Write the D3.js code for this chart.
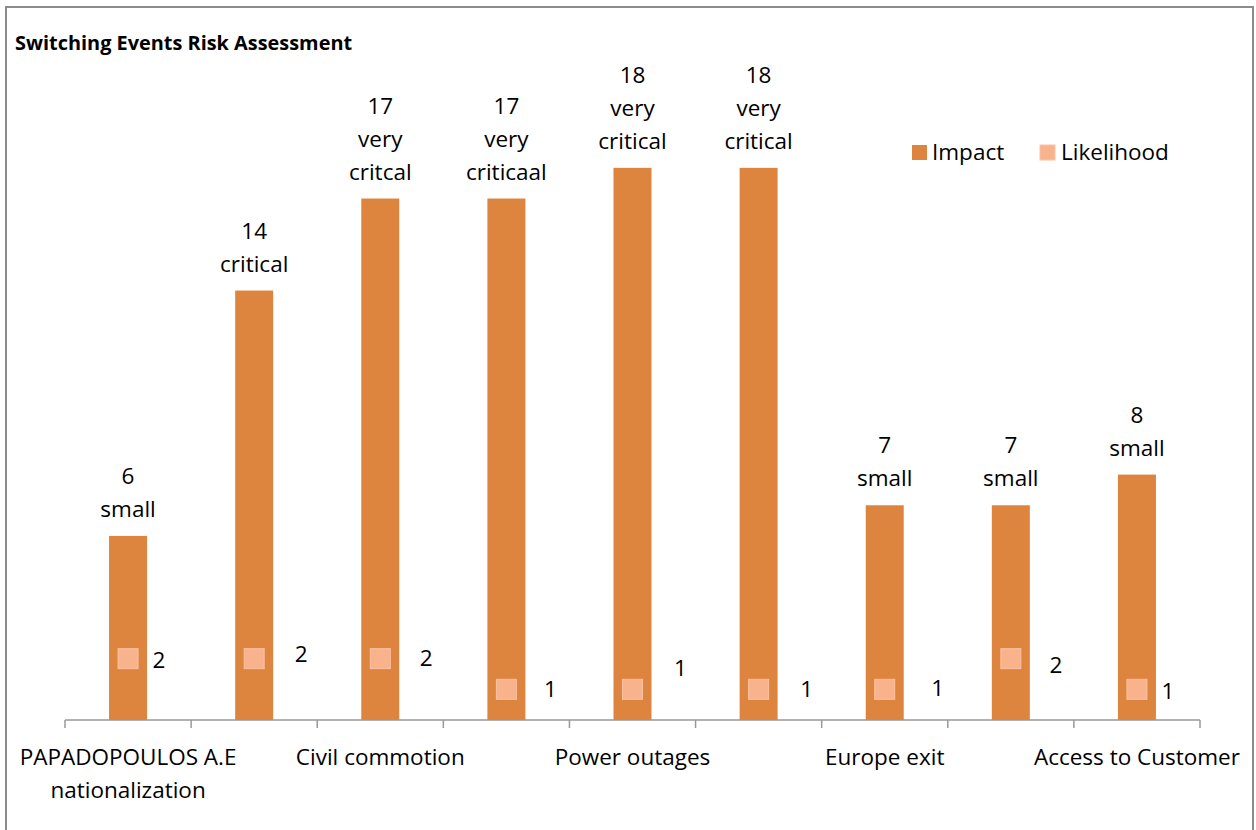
<!DOCTYPE html>
<html><head><meta charset="utf-8">
<script src="https://cdn.jsdelivr.net/npm/d3@7"></script>
<style>body{margin:0;background:#fff}svg{display:block}text{font-family:"Open Sans",sans-serif}</style>
</head><body>
<svg id="c" width="1256" height="830"></svg>
<script>
const categories = ["PAPADOPOULOS A.E nationalization", "", "Civil commotion", "", "Power outages", "", "Europe exit", "", "Access to Customer"];
const impact = [6, 14, 17, 17, 18, 18, 7, 7, 8];
const impactLabels = [["6","small"],["14","critical"],["17","very","critcal"],["17","very","criticaal"],["18","very","critical"],["18","very","critical"],["7","small"],["7","small"],["8","small"]];
const likelihood = [2, 2, 2, 1, 1, 1, 1, 2, 1];
// manual label nudges (px) for likelihood labels, as placed in the original
const likeNudge = [[31,1],[47,-5],[46,-1],[44,0],[48,-21],[48,0],[53,-1],[45,6],[31,2]];

const FS = 22.5;
const svg = d3.select("#c");
svg.append("rect").attr("x",6).attr("y",7).attr("width",1247).attr("height",840)
  .attr("fill","#fff").attr("stroke","#8c8c8c").attr("stroke-width",2);

const x = d3.scaleBand().domain(d3.range(categories.length)).range([65,1200]).paddingInner(0).paddingOuter(0);
const y = d3.scaleLinear().domain([0,20]).range([720,106.5]);
const bw = 38;

svg.append("text").attr("x",15).attr("y",50).attr("font-size",19.9).attr("font-weight","bold")
  .text("Switching Events Risk Assessment");

// bars
svg.selectAll("rect.bar").data(impact).join("rect").attr("class","bar")
  .attr("x",(d,i)=>x(i)+x.bandwidth()/2-bw/2).attr("width",bw)
  .attr("y",d=>y(d)).attr("height",d=>y(0)-y(d)).attr("fill","#DD843F");

// axis
const ax = svg.append("g").attr("transform","translate(0,720)");
ax.append("line").attr("x1",65).attr("x2",1200).attr("stroke","#999").attr("stroke-width",1.5);
const ticks = d3.range(categories.length+1).map(i=>65+i*x.step());
ax.selectAll("line.t").data(ticks).join("line").attr("class","t")
  .attr("x1",d=>d).attr("x2",d=>d).attr("y1",0).attr("y2",8).attr("stroke","#999").attr("stroke-width",1.5);

// category labels
categories.forEach((c,i)=>{
  if(!c) return;
  const cx = x(i)+x.bandwidth()/2;
  const lines = i===0 ? ["PAPADOPOULOS A.E","nationalization"] : [c];
  const t = svg.append("text").attr("x",cx).attr("text-anchor","middle").attr("font-size",FS).attr("fill","#000");
  lines.forEach((l,k)=>t.append("tspan").attr("x",cx).attr("y",765+k*33).text(l));
});

// impact labels
impact.forEach((v,i)=>{
  const cx = x(i)+x.bandwidth()/2;
  const lines = impactLabels[i];
  const t = svg.append("text").attr("text-anchor","middle").attr("font-size",FS).attr("fill","#000");
  lines.forEach((l,k)=>{
    t.append("tspan").attr("x",cx).attr("y",y(v)-19-(lines.length-1-k)*33).text(l);
  });
});

// likelihood markers
const ms = 20;
svg.selectAll("rect.mk").data(likelihood).join("rect").attr("class","mk")
  .attr("x",(d,i)=>x(i)+x.bandwidth()/2-ms/2).attr("y",d=>y(d)-ms/2)
  .attr("width",ms).attr("height",ms).attr("fill","#F8B38D").attr("stroke","#FBC2A2").attr("stroke-width",1);
svg.selectAll("text.ml").data(likelihood).join("text").attr("class","ml")
  .attr("x",(d,i)=>x(i)+x.bandwidth()/2+likeNudge[i][0]).attr("y",(d,i)=>y(d)+likeNudge[i][1]+8)
  .attr("text-anchor","middle").attr("font-size",FS).text(d=>d);

// legend
const lg = svg.append("g");
lg.append("rect").attr("x",912).attr("y",145).attr("width",15).attr("height",15).attr("fill","#DD843F");
lg.append("text").attr("x",932).attr("y",160).attr("font-size",FS).text("Impact");
lg.append("rect").attr("x",1040).attr("y",145).attr("width",15).attr("height",15).attr("fill","#F8B38D").attr("stroke","#FBC2A2");
lg.append("text").attr("x",1061).attr("y",160).attr("font-size",FS).text("Likelihood");
</script>
</body></html>
